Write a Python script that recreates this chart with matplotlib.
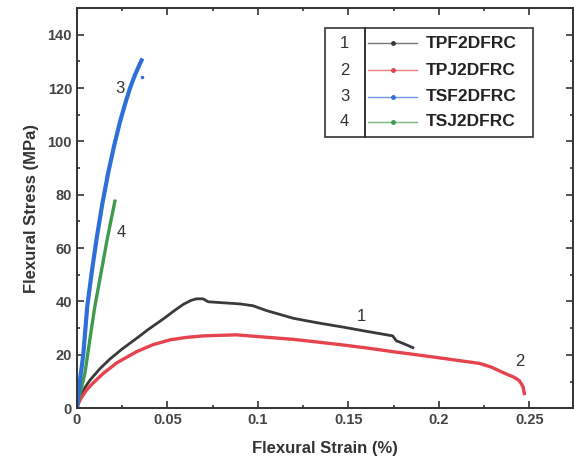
import matplotlib.pyplot as plt
from matplotlib.patches import Rectangle
from matplotlib.lines import Line2D
from matplotlib.ticker import MultipleLocator

# Curves (strain %, stress MPa)
strain_1 = [0, 0.001, 0.0025, 0.0045, 0.0072, 0.0127, 0.0182, 0.025, 0.033, 0.040, 0.0476,
            0.0535, 0.0587, 0.063, 0.066, 0.0697, 0.0725, 0.0789, 0.09, 0.0973, 0.1047,
            0.1196, 0.133, 0.147, 0.161, 0.1745, 0.1764, 0.1805, 0.1856]
stress_1 = [0, 2.5, 5.0, 7.8, 10.5, 14.8, 18.4, 22.2, 26.2, 29.8, 33.4,
            36.4, 38.9, 40.4, 41.0, 41.0, 39.9, 39.6, 39.1, 38.4, 36.6,
            33.7, 32.0, 30.4, 28.7, 27.1, 25.3, 24.2, 22.7]

strain_2 = [0, 0.001, 0.0025, 0.0053, 0.009, 0.0145, 0.022, 0.033, 0.042, 0.0513, 0.060,
            0.0697, 0.0881, 0.1047, 0.1196, 0.133, 0.147, 0.161, 0.1745, 0.188, 0.2021,
            0.2224, 0.229, 0.2353, 0.2415, 0.2445, 0.2465, 0.2472]
stress_2 = [0, 2.0, 4.0, 6.8, 9.5, 13.0, 17.0, 21.2, 23.8, 25.6, 26.5,
            27.1, 27.5, 26.6, 25.8, 24.8, 23.7, 22.5, 21.2, 20.0, 18.7,
            16.8, 15.4, 13.4, 11.6, 10.3, 8.0, 5.5]

strain_3 = [0, 0.0012, 0.0035, 0.0057, 0.0082, 0.0108, 0.014, 0.0173, 0.0205, 0.0237,
            0.0265, 0.0292, 0.032, 0.0348, 0.0357]
stress_3 = [0, 8, 20, 38.1, 51, 63.2, 76.5, 88.3, 98.2, 107.1,
            113.8, 119.7, 124.8, 129.1, 130.4]

strain_4 = [0, 0.0015, 0.0044, 0.0072, 0.0099, 0.0134, 0.0167, 0.019, 0.021]
stress_4 = [0, 5, 13, 26, 38.1, 51, 63.2, 71, 77.6]

names = ["TPF2DFRC", "TPJ2DFRC", "TSF2DFRC", "TSJ2DFRC"]
numbers = ["1", "2", "3", "4"]
colors = ["#3a3a3a", "#e5434d", "#2f6fd8", "#3f9b4c"]

plt.rcParams['font.family'] = ['Liberation Sans', 'DejaVu Sans']
text_col = "#333333"

fig = plt.figure(figsize=(5.74, 4.73), dpi=100)
ax = fig.add_axes([0.134, 0.137, 0.864, 0.846])

ax.plot(strain_1, stress_1, color=colors[0], lw=2.0, solid_joinstyle='round')
ax.plot(strain_2, stress_2, color=colors[1], lw=2.4, solid_joinstyle='round')
ax.plot(strain_4, stress_4, color=colors[3], lw=2.4, solid_joinstyle='round')
ax.plot(strain_3, stress_3, color=colors[2], lw=3.0, solid_joinstyle='round')
ax.plot([0.0357], [124], 'o', color=colors[2], ms=1.5)

# curve numbers
for x, y, t in [(0.0237, 119.7, "3"), (0.0246, 65.7, "4"), (0.157, 34.4, "1"), (0.2445, 17.4, "2")]:
    ax.text(x, y, t, fontsize=12, color=text_col, ha='center', va='center')

ax.set_xlim(0, 0.274)
ax.set_ylim(0, 150)
ax.xaxis.set_major_locator(MultipleLocator(0.05))
ax.xaxis.set_minor_locator(MultipleLocator(0.025))
ax.yaxis.set_major_locator(MultipleLocator(20))
ax.yaxis.set_minor_locator(MultipleLocator(10))
ax.set_xticks([0, 0.05, 0.1, 0.15, 0.2, 0.25])
ax.set_xticklabels(["0", "0.05", "0.1", "0.15", "0.2", "0.25"])
ax.tick_params(which='both', direction='in', top=True, right=True, colors=text_col,
               labelsize=10.5, width=1.2)
ax.tick_params(which='major', length=5)
ax.tick_params(which='minor', length=2.5)
for lab in ax.get_xticklabels() + ax.get_yticklabels():
    lab.set_fontweight('bold')
    lab.set_color('#444444')
for s in ax.spines.values():
    s.set_linewidth(1.4)
    s.set_color(text_col)

ax.set_xlabel("Flexural Strain (%)", fontsize=12, fontweight='bold', color=text_col, labelpad=10)
ax.set_ylabel("Flexural Stress (MPa)", fontsize=12, fontweight='bold', color=text_col, labelpad=6)

# legend box drawn by hand
x0, x1, y0, y1 = 0.5, 0.919, 0.6775, 0.95
ax.add_patch(Rectangle((x0, y0), x1 - x0, y1 - y0, transform=ax.transAxes,
                       fill=False, ec=text_col, lw=1.2, zorder=5))
ax.add_line(Line2D([0.581, 0.581], [y0, y1], transform=ax.transAxes, color=text_col, lw=1.4, zorder=5))
rows = [0.912, 0.845, 0.778, 0.716]
for i in range(4):
    ax.text(0.540, rows[i], numbers[i], transform=ax.transAxes, fontsize=12,
            color=text_col, ha='center', va='center')
    ax.add_line(Line2D([0.587, 0.685], [rows[i], rows[i]], transform=ax.transAxes,
                       color=colors[i], lw=1.0, alpha=0.7, zorder=5))
    ax.add_line(Line2D([0.637], [rows[i]], transform=ax.transAxes, marker='o', ms=2.5,
                       color=colors[i], lw=0, zorder=5))
    ax.text(0.704, rows[i], names[i], transform=ax.transAxes, fontsize=12.5,
            fontweight='bold', color='#222222', ha='left', va='center')

fig.savefig("out.png", dpi=100)
